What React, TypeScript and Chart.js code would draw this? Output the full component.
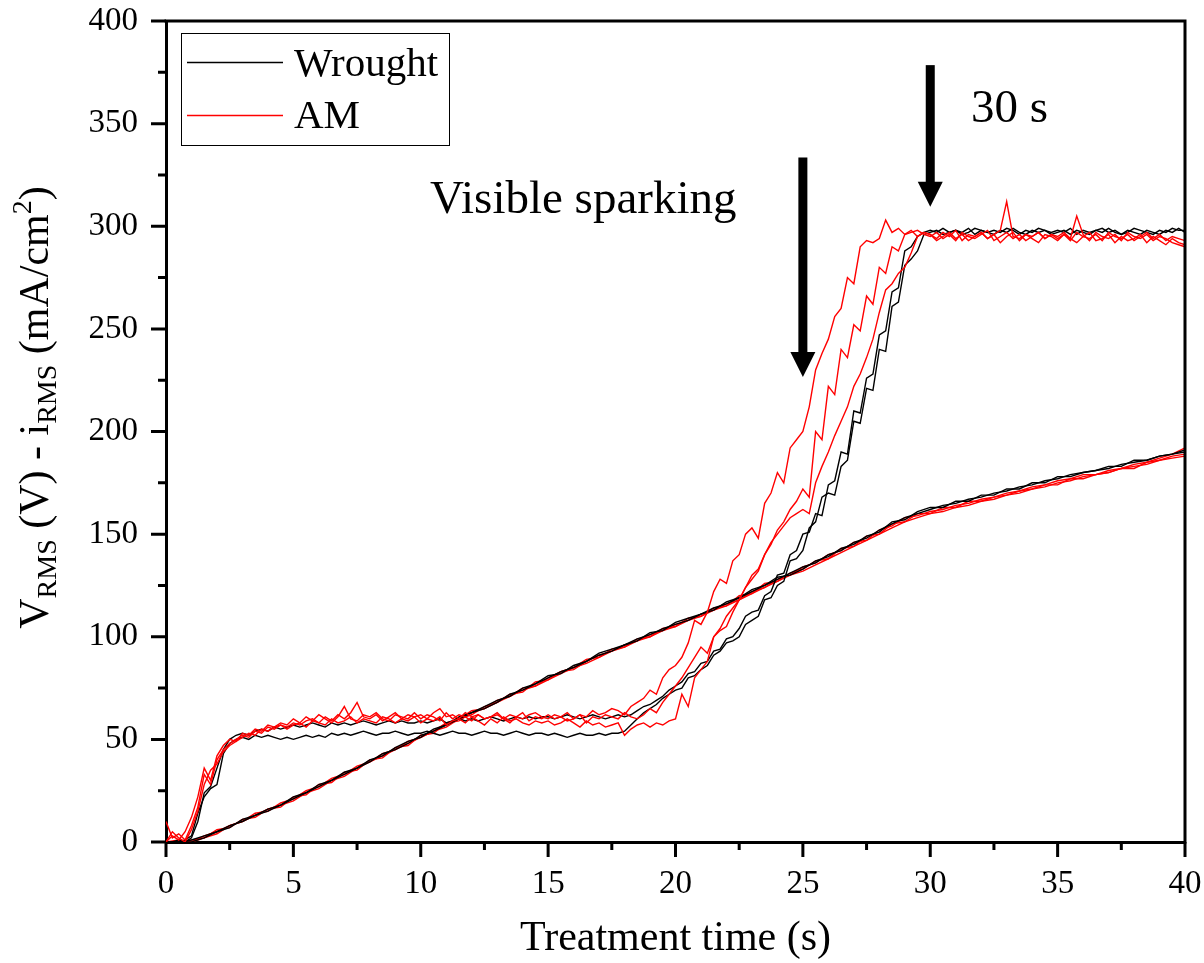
import React, { useEffect, useRef } from "react";
import { Chart, registerables } from "chart.js";

Chart.register(...registerables);

// ---------- DATA ----------
// time base for current density curves (s)
const T_CURRENT = [
  0, 0.25, 0.5, 0.75, 1, 1.25, 1.5, 1.75, 2, 2.25, 2.5, 2.75, 3, 3.25, 3.5, 3.75, 4, 4.25, 4.5, 4.75,
  5, 5.25, 5.5, 5.75, 6, 6.25, 6.5, 6.75, 7, 7.25, 7.5, 7.75, 8, 8.25, 8.5, 8.75, 9, 9.25, 9.5, 9.75,
  10, 10.25, 10.5, 10.75, 11, 11.25, 11.5, 11.75, 12, 12.25, 12.5, 12.75, 13, 13.25, 13.5, 13.75, 14, 14.25, 14.5, 14.75,
  15, 15.25, 15.5, 15.75, 16, 16.25, 16.5, 16.75, 17, 17.25, 17.5, 17.75, 18, 18.25, 18.5, 18.75, 19, 19.25, 19.5, 19.75,
  20, 20.25, 20.5, 20.75, 21, 21.25, 21.5, 21.75, 22, 22.25, 22.5, 22.75, 23, 23.25, 23.5, 23.75, 24, 24.25, 24.5, 24.75,
  25, 25.25, 25.5, 25.75, 26, 26.25, 26.5, 26.75, 27, 27.25, 27.5, 27.75, 28, 28.25, 28.5, 28.75, 29, 29.25, 29.5, 29.75,
  30, 30.25, 30.5, 30.75, 31, 31.25, 31.5, 31.75, 32, 32.25, 32.5, 32.75, 33, 33.25, 33.5, 33.75, 34, 34.25, 34.5, 34.75,
  35, 35.25, 35.5, 35.75, 36, 36.25, 36.5, 36.75, 37, 37.25, 37.5, 37.75, 38, 38.25, 38.5, 38.75, 39, 39.25, 39.5, 39.75,
  40,
];

// time base for voltage curves (s)
const T_VOLTAGE = [
  0, 0.5, 1, 1.5, 2, 2.5, 3, 3.5, 4, 4.5,
  5, 5.5, 6, 6.5, 7, 7.5, 8, 8.5, 9, 9.5,
  10, 10.5, 11, 11.5, 12, 12.5, 13, 13.5, 14, 14.5,
  15, 15.5, 16, 16.5, 17, 17.5, 18, 18.5, 19, 19.5,
  20, 20.5, 21, 21.5, 22, 22.5, 23, 23.5, 24, 24.5,
  25, 25.5, 26, 26.5, 27, 27.5, 28, 28.5, 29, 29.5,
  30, 30.5, 31, 31.5, 32, 32.5, 33, 33.5, 34, 34.5,
  35, 35.5, 36, 36.5, 37, 37.5, 38, 38.5, 39, 39.5,
  40,
];

// Wrought – current density runs
const I_WROUGHT_1 = [
  0, 0, 0, 1, 3, 14, 22, 26, 28, 43, 48, 50, 51, 50, 52, 51, 52, 51, 50, 51,
  50, 51, 52, 51, 52, 51, 53, 52, 53, 52, 53, 54, 53, 52, 53, 53, 54, 53, 52, 53,
  53, 54, 53, 52, 53, 54, 53, 53, 52, 53, 54, 53, 53, 52, 53, 54, 53, 52, 53, 53,
  52, 53, 52, 51, 52, 53, 52, 52, 53, 52, 53, 53, 54, 57, 60, 63, 65, 67, 70, 72,
  74, 75, 80, 81, 84, 86, 91, 93, 97, 98, 100, 106, 108, 110, 118, 119, 125, 127, 137, 138,
  142, 153, 156, 168, 170, 169, 183, 186, 205, 204, 221, 220, 240, 239, 261, 263, 281, 284, 288, 296,
  297, 298, 296, 297, 298, 297, 299, 296, 298, 297, 296, 298, 297, 299, 297, 296, 298, 297, 298, 296,
  297, 298, 296, 298, 297, 296, 298, 297, 299, 297, 296, 298, 297, 296, 298, 297, 296, 298, 297, 299,
  297,
];
const I_WROUGHT_2 = [
  0, 0, 1, 0, 2, 10, 24, 27, 36, 45, 50, 52, 53, 52, 54, 55, 54, 56, 55, 56,
  57, 56, 57, 58, 57, 56, 58, 57, 58, 57, 58, 59, 58, 57, 58, 59, 58, 59, 58, 58,
  59, 58, 59, 60, 58, 59, 60, 59, 60, 59, 60, 61, 60, 59, 60, 61, 60, 61, 60, 61,
  61, 60, 61, 62, 61, 60, 61, 62, 61, 60, 61, 62, 61, 62, 64, 66, 67, 69, 71, 74,
  76, 78, 82, 83, 87, 88, 93, 94, 99, 100, 104, 110, 112, 113, 120, 122, 130, 131, 140, 142,
  150, 151, 160, 159, 174, 176, 190, 189, 210, 209, 226, 228, 247, 249, 268, 270, 288, 290, 295, 297,
  298, 297, 299, 297, 298, 296, 297, 299, 298, 297, 298, 297, 299, 298, 296, 298, 297, 299, 298, 297,
  298, 297, 299, 296, 298, 297, 298, 299, 297, 298, 296, 297, 299, 298, 297, 296, 298, 297, 299, 298,
  298,
];

// AM – current density runs
const I_AM_1 = [
  10, 2, 4, 1, 8, 17, 33, 28, 40, 45, 48, 50, 52, 51, 54, 53, 56, 55, 57, 56,
  58, 57, 59, 60, 58, 61, 59, 62, 60, 63, 68, 61, 60, 62, 59, 61, 63, 60, 62, 61,
  62, 60, 63, 65, 61, 62, 60, 63, 61, 62, 60, 61, 63, 60, 62, 61, 60, 62, 63, 61,
  60, 62, 61, 63, 60, 62, 61, 64, 62, 63, 65, 64, 62, 66, 68, 70, 74, 72, 80, 84,
  86, 90, 97, 108, 106, 112, 122, 128, 126, 137, 140, 150, 153, 148, 165, 170, 180, 175, 192, 196,
  200, 212, 230, 238, 245, 256, 260, 275, 272, 290, 293, 292, 294, 303, 297, 299, 296, 298, 295, 297,
  296, 294, 297, 295, 298, 293, 296, 295, 297, 294, 296, 298, 312, 295, 294, 296, 295, 297, 294, 296,
  295, 297, 294, 305, 296, 293, 297, 295, 294, 296, 293, 297, 295, 294, 296, 293, 295, 294, 292, 291,
  290,
];
const I_AM_2 = [
  0, 3, 1, 5, 12, 22, 36, 30, 42, 47, 50, 49, 53, 52, 55, 54, 57, 56, 58, 57,
  60, 58, 61, 59, 62, 60, 58, 61, 66, 60, 59, 62, 61, 63, 60, 59, 62, 61, 60, 63,
  60, 62, 61, 59, 63, 60, 62, 61, 59, 62, 60, 61, 62, 60, 58, 61, 63, 59, 61, 60,
  62, 60, 61, 59, 60, 62, 58, 61, 60, 62, 61, 60, 63, 61, 60, 62, 65, 63, 68, 72,
  76, 80, 85, 90, 95, 92, 100, 104, 110, 114, 118, 124, 128, 132, 140, 145, 152, 156, 162, 166,
  172, 168, 200, 196, 222, 218, 240, 236, 252, 249, 266, 262, 280, 277, 290, 288, 296, 297, 298, 296,
  295, 297, 294, 296, 293, 297, 295, 294, 296, 298, 293, 295, 297, 294, 296, 293, 295, 297, 294, 296,
  294, 296, 293, 297, 295, 294, 296, 293, 297, 295, 294, 296, 293, 295, 297, 294, 296, 293, 295, 294,
  293,
];
const I_AM_3 = [
  0, 5, 2, 0, 6, 15, 28, 35, 38, 44, 47, 49, 51, 53, 52, 55, 54, 56, 57, 55,
  57, 58, 56, 59, 58, 57, 60, 58, 59, 61, 58, 60, 59, 58, 61, 60, 58, 60, 59, 61,
  58, 60, 59, 61, 57, 59, 60, 58, 61, 59, 57, 60, 58, 61, 59, 60, 58, 57, 59, 58,
  59, 57, 58, 60, 58, 56, 59, 57, 58, 56, 57, 58, 52, 55, 57, 58, 56, 58, 57, 59,
  60, 72, 66, 80, 84, 88, 100, 103, 105, 112, 118, 124, 130, 133, 140, 146, 150, 154, 158, 160,
  162, 160, 175, 183, 190, 198, 205, 212, 222, 228, 236, 245, 258, 269, 272, 277, 280, 287, 295, 297,
  296, 293, 295, 297, 294, 296, 293, 295, 297, 294, 296, 292, 295, 297, 293, 296, 294, 292, 296, 295,
  293, 296, 294, 292, 295, 297, 293, 294, 296, 292, 295, 293, 294, 296, 292, 295, 293, 291, 294, 292,
  291,
];

// Wrought – voltage runs
const V_WROUGHT_1 = [
  0, 0, 0, 2, 5, 8, 10, 13, 16, 18,
  21, 24, 27, 30, 33, 36, 39, 43, 45, 48,
  52, 54, 57, 60, 63, 65, 68, 72, 74, 77,
  80, 83, 85, 88, 91, 93, 96, 99, 101, 104,
  106, 108, 111, 114, 116, 119, 122, 125, 128, 131,
  134, 136, 140, 142, 146, 148, 152, 155, 158, 160,
  162, 164, 165, 167, 168, 170, 171, 173, 174, 176,
  177, 179, 180, 181, 182, 184, 185, 186, 188, 189,
  190,
];
const V_WROUGHT_2 = [
  0, 0, 1, 3, 5, 7, 11, 13, 15, 18,
  22, 24, 28, 30, 34, 36, 40, 42, 46, 49,
  51, 55, 57, 61, 63, 66, 69, 71, 75, 77,
  81, 82, 86, 88, 92, 94, 96, 98, 102, 103,
  107, 109, 111, 113, 117, 119, 123, 125, 129, 130,
  133, 137, 139, 143, 145, 149, 151, 156, 157, 161,
  163, 163, 166, 166, 169, 169, 172, 172, 175, 175,
  178, 178, 180, 181, 183, 183, 186, 186, 188, 189,
  191,
];

// AM – voltage runs
const V_AM_1 = [
  0, 0, 0, 2, 4, 8, 10, 14, 15, 19,
  21, 25, 27, 31, 33, 37, 39, 43, 45, 49,
  51, 54, 58, 60, 64, 65, 69, 71, 75, 76,
  80, 83, 85, 89, 90, 94, 95, 99, 100, 104,
  105, 109, 110, 114, 115, 120, 121, 126, 127, 131,
  133, 137, 138, 143, 144, 149, 150, 155, 156, 160,
  160, 163, 163, 166, 166, 168, 169, 171, 172, 174,
  174, 177, 177, 179, 180, 182, 182, 185, 186, 188,
  189,
];
const V_AM_2 = [
  0, 0, 1, 2, 6, 7, 11, 12, 16, 17,
  22, 23, 28, 29, 34, 35, 40, 41, 46, 47,
  52, 53, 58, 59, 63, 65, 68, 72, 73, 78,
  79, 83, 84, 88, 91, 93, 96, 98, 101, 103,
  106, 108, 111, 113, 116, 118, 122, 124, 128, 130,
  134, 136, 140, 142, 146, 147, 152, 154, 158, 159,
  161, 162, 164, 165, 167, 168, 170, 171, 173, 174,
  176, 177, 179, 179, 181, 182, 184, 185, 187, 189,
  192,
];
const V_AM_3 = [
  0, 1, 0, 3, 5, 8, 10, 13, 16, 18,
  20, 24, 26, 30, 32, 36, 39, 42, 45, 48,
  51, 54, 56, 60, 62, 66, 68, 71, 74, 76,
  79, 82, 85, 87, 90, 93, 95, 98, 100, 103,
  105, 108, 110, 113, 115, 118, 121, 124, 127, 130,
  132, 135, 138, 141, 144, 147, 150, 153, 156, 158,
  160, 161, 163, 164, 166, 167, 169, 170, 172, 173,
  175, 176, 178, 179, 180, 182, 183, 184, 186, 187,
  188,
];

// axis ticks
const X_MAJOR = [0, 5, 10, 15, 20, 25, 30, 35, 40];
const X_MINOR = [2.5, 7.5, 12.5, 17.5, 22.5, 27.5, 32.5, 37.5];
const Y_MAJOR = [0, 50, 100, 150, 200, 250, 300, 350, 400];
const Y_MINOR = [25, 75, 125, 175, 225, 275, 325, 375];

const LEGEND_LABELS = ["Wrought", "AM"];
const X_TITLE = "Treatment time (s)";

// annotations (data units)
const ARROWS = [
  { x: 25, yTop: 333.5, yTip: 226.5 },
  { x: 30, yTop: 378.5, yTip: 309.5 },
];
const NOTES = [
  { text: "Visible sparking", x: 10.36, y: 306.4 },
  { text: "30 s", x: 31.6, y: 350.8 },
];

// ---------- STYLE ----------
const FONT = '"Liberation Serif", "Times New Roman", serif';
const BLACK = "#000000";
const RED = "#ff0000";

Chart.defaults.font.family = FONT;

const decorPlugin = {
  id: "decor",
  afterDraw(chart: any) {
    const { ctx, chartArea: a, scales } = chart;
    const xs = scales.x;
    const ys = scales.y;
    ctx.save();
    ctx.strokeStyle = "#000";
    ctx.fillStyle = "#000";
    ctx.lineWidth = 3;
    ctx.lineCap = "butt";

    // top & right frame
    ctx.beginPath();
    ctx.moveTo(a.left - 1.5, a.top);
    ctx.lineTo(a.right, a.top);
    ctx.moveTo(a.right, a.top - 1.5);
    ctx.lineTo(a.right, a.bottom + 1.5);
    ctx.stroke();

    // outward ticks
    ctx.beginPath();
    X_MAJOR.forEach((v) => {
      const p = xs.getPixelForValue(v);
      ctx.moveTo(p, a.bottom);
      ctx.lineTo(p, a.bottom + 15);
    });
    X_MINOR.forEach((v) => {
      const p = xs.getPixelForValue(v);
      ctx.moveTo(p, a.bottom);
      ctx.lineTo(p, a.bottom + 8);
    });
    Y_MAJOR.forEach((v) => {
      const p = ys.getPixelForValue(v);
      ctx.moveTo(a.left, p);
      ctx.lineTo(a.left - 15, p);
    });
    Y_MINOR.forEach((v) => {
      const p = ys.getPixelForValue(v);
      ctx.moveTo(a.left, p);
      ctx.lineTo(a.left - 8, p);
    });
    ctx.stroke();

    // legend
    ctx.lineWidth = 1;
    ctx.strokeRect(181.5, 33.5, 268, 112);
    const legendRows = [
      { label: LEGEND_LABELS[0], color: BLACK, y: 62.5, base: 76 },
      { label: LEGEND_LABELS[1], color: RED, y: 115.5, base: 128 },
    ];
    ctx.font = `41px ${FONT}`;
    ctx.textBaseline = "alphabetic";
    ctx.textAlign = "left";
    legendRows.forEach((r) => {
      ctx.strokeStyle = r.color;
      ctx.lineWidth = 1.5;
      ctx.beginPath();
      ctx.moveTo(187, r.y);
      ctx.lineTo(283, r.y);
      ctx.stroke();
      ctx.fillStyle = "#000";
      ctx.fillText(r.label, 294, r.base);
    });

    // arrows
    ctx.fillStyle = "#000";
    ARROWS.forEach((ar) => {
      const x = xs.getPixelForValue(ar.x);
      const top = ys.getPixelForValue(ar.yTop);
      const tip = ys.getPixelForValue(ar.yTip);
      const headLen = 25;
      const headHalf = 12.5;
      const shaftHalf = 4.5;
      ctx.fillRect(x - shaftHalf, top, shaftHalf * 2, tip - headLen - top + 1);
      ctx.beginPath();
      ctx.moveTo(x - headHalf, tip - headLen);
      ctx.lineTo(x + headHalf, tip - headLen);
      ctx.lineTo(x, tip);
      ctx.closePath();
      ctx.fill();
    });

    // annotation text
    ctx.font = `47px ${FONT}`;
    NOTES.forEach((n) => {
      ctx.fillText(n.text, xs.getPixelForValue(n.x), ys.getPixelForValue(n.y));
    });

    // x title
    ctx.font = `42px ${FONT}`;
    ctx.textAlign = "center";
    ctx.fillText(X_TITLE, (a.left + a.right) / 2, 950);

    // y title with sub/superscripts
    const segs = [
      { t: "V", size: 42, dy: 0 },
      { t: "RMS", size: 28, dy: 8 },
      { t: " (V) - i", size: 42, dy: 0 },
      { t: "RMS", size: 28, dy: 8 },
      { t: " (mA/cm", size: 42, dy: 0 },
      { t: "2", size: 28, dy: -17 },
      { t: ")", size: 42, dy: 0 },
    ];
    ctx.textAlign = "left";
    let total = 0;
    const widths = segs.map((s) => {
      ctx.font = `${s.size}px ${FONT}`;
      const w = ctx.measureText(s.t).width;
      total += w;
      return w;
    });
    ctx.translate(48, 407.5);
    ctx.rotate(-Math.PI / 2);
    let cx = -total / 2;
    segs.forEach((s, i) => {
      ctx.font = `${s.size}px ${FONT}`;
      ctx.fillText(s.t, cx, s.dy);
      cx += widths[i];
    });
    ctx.restore();
  },
};

function series(label: string, xs: number[], ys: number[], color: string, order: number) {
  return {
    label,
    data: xs.map((x, i) => ({ x, y: ys[i] })),
    borderColor: color,
    backgroundColor: color,
    borderWidth: 1.4,
    pointRadius: 0,
    pointHoverRadius: 0,
    fill: false,
    tension: 0,
    order,
  };
}

export default function App() {
  const ref = useRef<HTMLCanvasElement | null>(null);

  useEffect(() => {
    document.body.style.margin = "0";
    const canvas = ref.current;
    if (!canvas) return;
    const datasets = [
      series("AM", T_CURRENT, I_AM_1, RED, 1),
      series("AM", T_CURRENT, I_AM_2, RED, 2),
      series("AM", T_CURRENT, I_AM_3, RED, 3),
      series("Wrought", T_CURRENT, I_WROUGHT_1, BLACK, 4),
      series("Wrought", T_CURRENT, I_WROUGHT_2, BLACK, 5),
      series("Wrought", T_VOLTAGE, V_WROUGHT_1, BLACK, 6),
      series("Wrought", T_VOLTAGE, V_WROUGHT_2, BLACK, 7),
      series("AM", T_VOLTAGE, V_AM_1, RED, 8),
      series("AM", T_VOLTAGE, V_AM_2, RED, 9),
      series("AM", T_VOLTAGE, V_AM_3, RED, 10),
    ];
    const chart = new Chart(canvas, {
      type: "line",
      data: { datasets },
      options: {
        animation: false,
        responsive: false,
        events: [],
        layout: { padding: { left: 0, top: 21, right: 19, bottom: 0 } },
        plugins: {
          legend: { display: false },
          tooltip: { enabled: false },
          title: { display: false },
        },
        scales: {
          x: {
            type: "linear",
            min: 0,
            max: 40,
            afterFit: (s: any) => {
              s.height = 121;
              s.paddingLeft = 0;
              s.paddingRight = 0;
              s.paddingTop = 0;
              s.paddingBottom = 0;
            },
            grid: { display: false, drawTicks: false },
            border: { display: true, color: "#000", width: 3 },
            ticks: {
              stepSize: 5,
              padding: 23,
              color: "#000",
              font: { family: FONT, size: 33 },
              maxRotation: 0,
              autoSkip: false,
            },
          },
          y: {
            type: "linear",
            min: 0,
            max: 400,
            afterFit: (s: any) => {
              s.width = 166;
              s.paddingLeft = 0;
              s.paddingRight = 0;
              s.paddingTop = 0;
              s.paddingBottom = 0;
            },
            grid: { display: false, drawTicks: false },
            border: { display: true, color: "#000", width: 3 },
            ticks: {
              stepSize: 50,
              padding: 28,
              color: "#000",
              font: { family: FONT, size: 33 },
              autoSkip: false,
            },
          },
        },
      },
      plugins: [decorPlugin],
    } as any);
    return () => chart.destroy();
  }, []);

  return <canvas ref={ref} width={1204} height={963} style={{ display: "block" }} />;
}
